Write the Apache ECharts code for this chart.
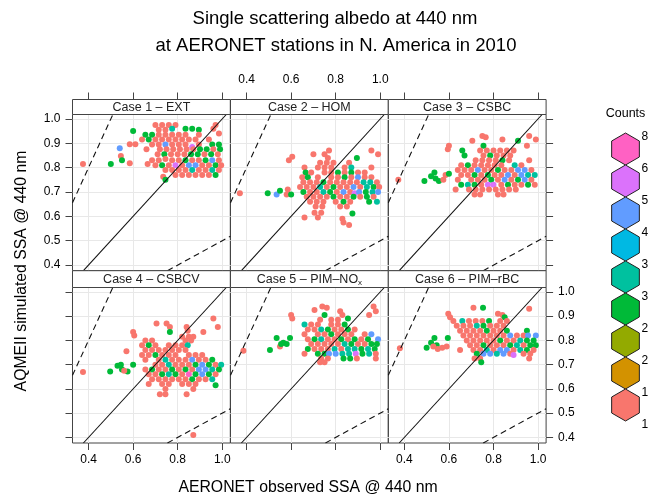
<!DOCTYPE html>
<html><head><meta charset="utf-8">
<script src="https://cdn.jsdelivr.net/npm/echarts@6/dist/echarts.min.js"></script>
<style>html,body{margin:0;padding:0;background:#fff}#c{width:657px;height:498px}</style>
</head><body><div id="c"></div>
<script>
const titleLines = ['Single scattering albedo at 440 nm', 'at AERONET stations in N. America in 2010'];
const xTitle = 'AERONET observed SSA @ 440 nm';
const yTitle = 'AQMEII simulated SSA @ 440 nm';
const caseNames = ['Case 1 – EXT', 'Case 2 – HOM', 'Case 3 – CSBC', 'Case 4 – CSBCV', 'Case 5 – PIM–NO', 'Case 6 – PIM–rBC'];
const caseSub = ['', '', '', '', 'x', ''];
const xTicks = [0.4, 0.6, 0.8, 1.0];
const yTicks = [0.4, 0.5, 0.6, 0.7, 0.8, 0.9, 1.0];
const xRange = [0.328, 1.036];
const yRange = [0.377, 1.018];
const legendTitle = 'Counts';
const countLabels = ['8', '6', '5', '4', '3', '3', '2', '2', '1', '1'];
const palette = ['#F8766D', '#D39200', '#93AA00', '#00BA38', '#00C19F', '#00B9E3', '#619CFF', '#DB72FB', '#FF61C3'];
const refSlopes = [1, 2, 0.5];

// [observed, simulated, colour level 1..9]
const case1 = [
[0.375,0.815,1],[0.50,0.815,4],[0.54,0.88,7],[0.545,0.848,1],[0.55,0.83,4],[0.585,0.818,1],[0.585,0.896,1],[0.61,0.896,1],[0.665,0.815,1],[0.735,0.763,1],[0.745,0.75,4],
[0.70,0.975,1],[0.73,0.975,1],[0.76,0.975,1],[0.79,0.975,1],[0.97,0.975,1],
[0.60,0.95,4],[0.715,0.955,1],[0.745,0.955,1],[0.775,0.96,5],[0.835,0.96,4],[0.865,0.96,4],[0.895,0.955,4],[0.96,0.96,1],
[0.655,0.935,4],[0.685,0.935,4],[0.715,0.935,1],[0.745,0.935,1],[0.775,0.935,1],[0.805,0.935,1],[0.835,0.935,1],[0.895,0.935,1],[0.985,0.94,1],
[0.64,0.915,1],[0.67,0.915,4],[0.70,0.915,1],[0.73,0.915,1],[0.76,0.915,1],[0.79,0.915,1],[0.82,0.915,1],[0.85,0.915,1],[0.88,0.915,1],[0.94,0.915,1],
[0.685,0.895,1],[0.715,0.895,1],[0.745,0.895,7],[0.775,0.895,1],[0.805,0.895,1],[0.835,0.895,1],[0.865,0.885,8],[0.895,0.895,1],[0.955,0.895,4],[0.985,0.895,4],
[0.66,0.875,1],[0.72,0.875,1],[0.75,0.875,1],[0.78,0.875,1],[0.81,0.875,1],[0.84,0.875,1],[0.87,0.875,1],[0.90,0.875,4],[0.93,0.875,4],[0.96,0.875,1],[0.99,0.875,4],
[0.71,0.855,1],[0.74,0.855,4],[0.77,0.855,1],[0.80,0.855,1],[0.83,0.855,1],[0.86,0.855,4],[0.89,0.855,4],[0.92,0.855,1],[0.95,0.855,4],[0.98,0.855,1],
[0.685,0.83,1],[0.715,0.83,1],[0.745,0.835,1],[0.775,0.83,1],[0.805,0.83,1],[0.835,0.83,4],[0.865,0.83,1],[0.895,0.83,1],[0.925,0.83,4],[0.955,0.83,7],[0.985,0.83,1],
[0.70,0.81,1],[0.73,0.81,4],[0.76,0.81,1],[0.79,0.81,8],[0.82,0.81,1],[0.85,0.81,7],[0.88,0.81,7],[0.91,0.81,1],[0.94,0.81,1],[0.97,0.81,4],[0.995,0.81,1],
[0.745,0.79,1],[0.775,0.79,1],[0.805,0.79,1],[0.835,0.79,1],[0.865,0.79,5],[0.895,0.79,1],[0.925,0.79,1],[0.955,0.79,5],[0.985,0.79,1],
[0.79,0.77,1],[0.82,0.77,1],[0.85,0.77,1],[0.88,0.77,1],[0.91,0.77,1],[0.94,0.77,1],[0.97,0.77,4]
];
const case2 = [
[0.37,0.695,1],[0.495,0.695,4],[0.535,0.69,7],[0.55,0.705,4],[0.58,0.69,1],[0.585,0.71,1],[0.60,0.69,4],[0.59,0.83,1],[0.605,0.845,1],[0.66,0.595,1],
[0.70,0.855,1],[0.75,0.855,1],[0.77,0.87,1],[0.765,0.84,1],[0.96,0.87,1],[0.99,0.855,1],[0.895,0.84,4],
[0.73,0.82,1],[0.76,0.82,1],[0.79,0.82,1],[0.86,0.82,1],
[0.66,0.80,1],[0.72,0.80,1],[0.75,0.80,1],[0.78,0.80,1],[0.84,0.80,1],[0.87,0.80,5],[0.96,0.80,1],
[0.665,0.78,4],[0.69,0.78,1],[0.75,0.78,1],[0.78,0.78,1],[0.81,0.78,4],[0.84,0.78,1],[0.87,0.78,4],[0.90,0.78,1],[0.93,0.78,1],
[0.65,0.76,1],[0.675,0.76,4],[0.72,0.76,1],[0.78,0.76,1],[0.81,0.76,1],[0.84,0.76,4],[0.87,0.76,1],[0.90,0.76,7],[0.93,0.76,1],[0.96,0.76,1],
[0.655,0.74,1],[0.685,0.74,1],[0.715,0.74,1],[0.745,0.74,4],[0.775,0.74,1],[0.805,0.74,1],[0.835,0.74,1],[0.865,0.74,1],[0.895,0.74,1],[0.925,0.74,5],[0.955,0.74,5],[0.985,0.74,1],
[0.64,0.72,1],[0.67,0.72,1],[0.70,0.72,1],[0.73,0.72,5],[0.76,0.72,1],[0.79,0.72,4],[0.82,0.72,1],[0.85,0.72,1],[0.88,0.72,7],[0.91,0.72,1],[0.94,0.72,5],[0.97,0.72,4],[0.995,0.72,1],
[0.655,0.70,4],[0.685,0.70,1],[0.715,0.70,1],[0.745,0.70,5],[0.775,0.70,4],[0.805,0.70,1],[0.835,0.70,7],[0.865,0.70,1],[0.885,0.695,8],[0.905,0.70,7],[0.935,0.70,4],[0.965,0.70,5],[0.99,0.70,7],
[0.67,0.68,1],[0.70,0.68,1],[0.73,0.68,1],[0.76,0.68,1],[0.79,0.68,4],[0.82,0.68,1],[0.85,0.68,1],[0.88,0.68,4],[0.91,0.68,1],[0.94,0.68,4],[0.97,0.68,1],
[0.685,0.66,1],[0.715,0.66,1],[0.745,0.66,1],[0.80,0.66,1],[0.835,0.66,4],[0.865,0.66,1],[0.95,0.66,4],[0.985,0.66,5],
[0.71,0.64,1],[0.74,0.64,1],[0.82,0.64,1],[0.85,0.64,1],
[0.705,0.615,1],[0.735,0.615,1],[0.875,0.612,4],
[0.72,0.595,1],[0.83,0.59,1],[0.835,0.575,1],[0.86,0.565,1]
];
const case3 = [
[0.373,0.75,1],[0.49,0.745,4],[0.52,0.765,4],[0.535,0.78,4],[0.54,0.755,4],[0.555,0.745,4],[0.575,0.75,1],[0.585,0.77,1],[0.60,0.775,4],
[0.60,0.89,1],[0.595,0.875,1],[0.705,0.91,1],[0.75,0.93,1],[0.765,0.925,1],[0.84,0.915,1],[0.96,0.93,1],[0.99,0.915,1],[0.95,0.89,1],[0.91,0.91,4],[0.755,0.89,4],
[0.66,0.87,4],[0.74,0.87,1],[0.77,0.87,1],[0.80,0.87,1],[0.83,0.87,1],[0.86,0.87,1],[0.89,0.87,1],
[0.67,0.85,4],[0.755,0.85,1],[0.785,0.85,4],[0.815,0.85,1],[0.845,0.85,1],[0.875,0.85,1],
[0.72,0.83,1],[0.75,0.83,1],[0.78,0.83,1],[0.81,0.83,1],[0.84,0.83,4],[0.87,0.83,1],[0.96,0.83,1],
[0.655,0.81,1],[0.685,0.81,4],[0.715,0.81,1],[0.745,0.81,1],[0.775,0.81,1],[0.805,0.81,1],[0.835,0.81,1],[0.895,0.81,5],[0.925,0.81,1],
[0.64,0.79,1],[0.67,0.79,1],[0.70,0.79,1],[0.73,0.79,7],[0.76,0.79,1],[0.79,0.79,1],[0.82,0.79,4],[0.85,0.79,1],[0.88,0.79,1],[0.91,0.79,7],[0.94,0.79,7],[0.97,0.79,1],
[0.655,0.77,1],[0.685,0.77,1],[0.715,0.77,4],[0.745,0.77,1],[0.775,0.77,4],[0.805,0.77,1],[0.835,0.77,1],[0.865,0.77,7],[0.895,0.77,1],[0.925,0.77,7],[0.955,0.77,5],[0.985,0.77,5],
[0.64,0.75,1],[0.70,0.75,1],[0.73,0.75,1],[0.76,0.75,1],[0.79,0.75,4],[0.82,0.75,1],[0.85,0.75,7],[0.88,0.75,1],[0.91,0.75,4],[0.94,0.75,7],[0.97,0.75,1],
[0.655,0.73,4],[0.685,0.73,5],[0.715,0.73,4],[0.745,0.73,1],[0.775,0.73,8],[0.80,0.73,8],[0.835,0.73,1],[0.865,0.73,4],[0.895,0.73,1],[0.925,0.73,1],[0.955,0.73,4],[0.985,0.73,1],
[0.63,0.71,1],[0.69,0.71,1],[0.72,0.71,1],[0.75,0.71,1],[0.78,0.71,1],[0.81,0.71,1],[0.84,0.71,1],[0.87,0.71,1],[0.90,0.71,1],
[0.715,0.69,1],[0.74,0.69,1],[0.82,0.69,1],[0.845,0.69,1]
];
const case4 = [
[0.375,0.67,1],[0.497,0.672,4],[0.53,0.695,4],[0.545,0.70,4],[0.55,0.68,4],[0.575,0.672,4],[0.56,0.675,1],[0.60,0.70,4],[0.57,0.755,1],[0.60,0.835,1],[0.605,0.82,1],
[0.705,0.87,1],[0.75,0.87,1],[0.765,0.855,1],[0.765,0.835,4],[0.84,0.855,1],[0.845,0.84,1],[0.915,0.835,1],[0.96,0.89,1],[0.98,0.855,1],
[0.82,0.815,1],[0.85,0.815,1],[0.87,0.815,1],
[0.655,0.80,1],[0.685,0.80,1],[0.835,0.80,1],[0.86,0.80,1],
[0.64,0.78,1],[0.67,0.78,4],[0.70,0.78,1],[0.76,0.78,1],[0.79,0.78,1],[0.82,0.78,1],[0.845,0.78,5],
[0.655,0.76,1],[0.685,0.76,1],[0.715,0.76,1],[0.745,0.76,1],[0.775,0.76,1],[0.805,0.76,1],[0.835,0.76,1],
[0.64,0.74,1],[0.67,0.74,1],[0.70,0.74,4],[0.73,0.74,1],[0.76,0.74,1],[0.79,0.74,1],[0.85,0.74,1],[0.88,0.74,1],[0.91,0.74,1],
[0.655,0.72,1],[0.715,0.72,1],[0.745,0.72,5],[0.775,0.72,1],[0.805,0.72,1],[0.835,0.72,1],[0.865,0.72,7],[0.895,0.72,1],[0.925,0.72,1],[0.955,0.72,4],
[0.70,0.70,1],[0.73,0.70,1],[0.76,0.70,5],[0.79,0.70,1],[0.82,0.70,1],[0.85,0.70,1],[0.88,0.70,4],[0.91,0.70,7],[0.94,0.70,4],[0.97,0.70,1],[0.995,0.70,5],
[0.655,0.68,1],[0.685,0.68,4],[0.715,0.68,1],[0.745,0.68,1],[0.775,0.68,4],[0.805,0.68,1],[0.835,0.68,4],[0.865,0.68,1],[0.895,0.68,7],[0.925,0.68,7],[0.955,0.68,5],[0.985,0.68,4],
[0.67,0.66,1],[0.70,0.66,1],[0.73,0.66,4],[0.76,0.66,5],[0.79,0.66,4],[0.82,0.66,1],[0.85,0.66,9],[0.88,0.66,4],[0.91,0.66,7],[0.94,0.66,4],[0.97,0.66,1],
[0.685,0.64,1],[0.715,0.64,1],[0.745,0.64,1],[0.775,0.64,1],[0.805,0.64,1],[0.835,0.64,1],[0.865,0.64,4],[0.895,0.64,1],[0.925,0.64,1],[0.955,0.64,5],
[0.67,0.62,1],[0.73,0.62,1],[0.76,0.62,1],[0.82,0.62,1],[0.85,0.62,1],[0.88,0.62,1],[0.97,0.615,4],
[0.745,0.60,1],[0.87,0.60,1],
[0.72,0.578,1],[0.745,0.578,1],[0.84,0.578,1],
[0.87,0.41,1]
];
const case5 = [
[0.386,0.757,1],[0.505,0.76,4],[0.535,0.81,4],[0.565,0.79,4],[0.55,0.775,1],[0.595,0.81,4],[0.58,0.785,4],[0.555,0.785,4],
[0.60,0.905,1],[0.605,0.89,1],[0.705,0.925,1],[0.74,0.94,1],[0.76,0.935,1],[0.82,0.92,1],[0.83,0.905,1],[0.95,0.905,1],[0.97,0.94,1],[0.98,0.92,1],[0.75,0.905,4],[0.855,0.89,4],
[0.73,0.885,1],[0.78,0.885,1],[0.81,0.885,1],
[0.66,0.865,5],[0.69,0.865,1],[0.72,0.865,1],[0.78,0.865,1],[0.81,0.865,1],[0.84,0.865,4],
[0.675,0.845,1],[0.705,0.845,1],[0.735,0.845,5],[0.765,0.845,4],[0.795,0.845,1],[0.825,0.845,1],[0.855,0.845,4],[0.885,0.845,1],
[0.66,0.825,1],[0.72,0.825,1],[0.75,0.825,1],[0.78,0.825,4],[0.81,0.825,1],[0.84,0.825,1],[0.87,0.825,1],[0.93,0.825,1],[0.96,0.825,7],
[0.675,0.805,1],[0.705,0.805,4],[0.735,0.805,5],[0.765,0.805,1],[0.795,0.805,1],[0.825,0.805,4],[0.855,0.805,1],[0.885,0.805,4],[0.915,0.805,1],[0.945,0.805,4],[0.99,0.805,7],
[0.69,0.785,1],[0.72,0.785,1],[0.75,0.785,1],[0.78,0.785,1],[0.81,0.785,1],[0.84,0.785,5],[0.87,0.785,4],[0.90,0.785,1],[0.93,0.785,1],[0.96,0.785,4],[0.985,0.785,4],
[0.675,0.765,4],[0.705,0.765,1],[0.735,0.765,1],[0.765,0.765,1],[0.795,0.765,5],[0.825,0.765,1],[0.855,0.765,5],[0.885,0.765,5],[0.915,0.765,4],[0.945,0.765,5],[0.975,0.765,4],
[0.66,0.745,1],[0.72,0.745,4],[0.75,0.745,4],[0.77,0.745,7],[0.80,0.745,7],[0.83,0.745,5],[0.86,0.745,5],[0.89,0.745,8],[0.92,0.745,4],[0.95,0.745,5],[0.98,0.745,1],
[0.735,0.725,1],[0.765,0.725,1],[0.835,0.725,4],[0.865,0.725,4],[0.895,0.725,1],[0.98,0.725,1],
[0.73,0.71,1],[0.75,0.71,1]
];
const case6 = [
[0.38,0.768,1],[0.50,0.77,4],[0.52,0.79,4],[0.535,0.81,4],[0.545,0.78,4],[0.595,0.81,4],[0.55,0.765,1],[0.57,0.77,1],[0.59,0.775,1],[0.53,0.775,1],
[0.597,0.91,1],[0.605,0.895,1],[0.71,0.935,1],[0.753,0.935,4],[0.82,0.91,1],[0.84,0.905,1],[0.96,0.93,1],[0.85,0.895,4],
[0.62,0.88,1],[0.66,0.88,5],[0.69,0.88,1],[0.72,0.88,1],[0.75,0.88,1],[0.78,0.88,4],[0.83,0.88,1],[0.86,0.88,1],
[0.635,0.86,1],[0.665,0.86,1],[0.695,0.86,1],[0.725,0.86,5],[0.755,0.86,4],[0.785,0.86,1],[0.815,0.86,1],[0.845,0.86,1],
[0.65,0.84,1],[0.68,0.84,1],[0.71,0.84,1],[0.74,0.84,1],[0.77,0.84,4],[0.80,0.84,1],[0.83,0.84,1],[0.86,0.84,4],[0.95,0.84,4],
[0.665,0.82,1],[0.695,0.82,1],[0.725,0.82,1],[0.755,0.82,1],[0.785,0.82,1],[0.815,0.82,1],[0.845,0.82,1],[0.875,0.82,7],[0.905,0.82,1],[0.935,0.82,1],[0.955,0.82,7],[0.99,0.82,7],
[0.68,0.80,1],[0.71,0.80,1],[0.74,0.80,1],[0.77,0.80,1],[0.80,0.80,1],[0.83,0.80,4],[0.86,0.80,1],[0.89,0.80,1],[0.92,0.80,5],[0.95,0.80,4],[0.98,0.80,4],
[0.695,0.78,1],[0.725,0.78,1],[0.755,0.78,4],[0.785,0.78,1],[0.815,0.78,1],[0.845,0.78,1],[0.875,0.78,4],[0.905,0.78,5],[0.935,0.78,1],[0.965,0.78,4],[0.99,0.78,4],
[0.65,0.76,1],[0.71,0.76,1],[0.74,0.76,1],[0.77,0.76,5],[0.80,0.76,1],[0.83,0.76,7],[0.86,0.76,7],[0.89,0.76,1],[0.92,0.76,5],[0.95,0.76,4],[0.98,0.76,1],
[0.725,0.745,4],[0.755,0.745,7],[0.785,0.745,7],[0.815,0.745,5],[0.845,0.745,7],[0.875,0.745,1],[0.89,0.74,8],[0.935,0.745,1],[0.965,0.745,1],
[0.715,0.725,1],[0.74,0.725,1],[0.96,0.725,1],
[0.745,0.71,4]
];
const cases = [case1, case2, case3, case4, case5, case6];

const FONT = 'Liberation Sans, Arial, Helvetica, sans-serif';
const colLeft = [72.5, 230.5, 388.3];
const panelW = 157.8;
const rows = [{ strip: 99.5, top: 114.5, h: 156.2 }, { strip: 270.7, top: 287.5, h: 155.5 }];
const stripH = 15;

const grids = [], xAxes = [], yAxes = [], series = [], graphics = [];
for (let i = 0; i < 6; i++) {
  const r = Math.floor(i / 3), c = i % 3;
  grids.push({ left: colLeft[c], top: rows[r].top, width: panelW, height: rows[r].h,
    show: true, borderColor: '#444', borderWidth: 1, backgroundColor: 'transparent', containLabel: false });
  const showXLab = (r === 0 && c === 1) || (r === 1 && c !== 1);
  xAxes.push({ gridIndex: i, type: 'value', min: xRange[0], max: xRange[1],
    position: r === 0 ? 'top' : 'bottom', offset: r === 0 ? stripH : 0,
    axisLine: { show: false },
    axisTick: { show: true, length: 7, customValues: xTicks, lineStyle: { color: '#444', width: 1 } },
    axisLabel: { show: showXLab, customValues: xTicks, margin: r === 0 ? 14 : 11, fontSize: 12, color: '#000', fontFamily: FONT,
      formatter: v => v.toFixed(1) },
    splitLine: { show: true, lineStyle: { color: '#e8e8e8', width: 1 } } });
  const showYAx = c !== 1;
  const showYLab = (c === 0 && r === 0) || (c === 2 && r === 1);
  yAxes.push({ gridIndex: i, type: 'value', min: yRange[0], max: yRange[1],
    position: c === 2 ? 'right' : 'left',
    axisLine: { show: false },
    axisTick: { show: showYAx, length: 7, customValues: yTicks, lineStyle: { color: '#444', width: 1 } },
    axisLabel: { show: showYLab, customValues: yTicks, margin: 12, fontSize: 12, color: '#000', fontFamily: FONT,
      formatter: v => v.toFixed(1) },
    splitLine: { show: true, lineStyle: { color: '#e8e8e8', width: 1 } } });
  series.push({ type: 'scatter', xAxisIndex: i, yAxisIndex: i, data: cases[i], symbol: 'circle', symbolSize: 6,
    silent: true, z: 2, itemStyle: { color: p => palette[p.data[2] - 1], opacity: 1 } });
  refSlopes.forEach(k => {
    const x0 = Math.max(xRange[0], yRange[0] / k), x1 = Math.min(xRange[1], yRange[1] / k);
    series.push({ type: 'line', xAxisIndex: i, yAxisIndex: i, data: [[x0, k * x0], [x1, k * x1]],
      symbol: 'none', silent: true, z: 3,
      lineStyle: { color: '#111', width: 1.1, type: k === 1 ? 'solid' : [6, 4] } });
  });
  graphics.push({ type: 'rect', shape: { x: colLeft[c], y: rows[r].strip, width: panelW, height: rows[r].top - rows[r].strip },
    style: { fill: '#fff', stroke: '#444', lineWidth: 1 }, z: 10 });
  const txt = caseSub[i] ? '{n|' + caseNames[i] + '}{s|' + caseSub[i] + '}' : '{n|' + caseNames[i] + '}';
  graphics.push({ type: 'text', x: colLeft[c] + panelW / 2, y: (rows[r].strip + rows[r].top) / 2 + 0.5, z: 11,
    style: { text: txt, align: 'center', verticalAlign: 'middle', fill: '#222', font: '12.5px ' + FONT,
      rich: { n: { fontSize: 12.5, fontFamily: FONT, fill: '#222' }, s: { fontSize: 8, fontFamily: FONT, fill: '#222', padding: [7, 0, 0, 0] } } } });
}

graphics.push({ type: 'text', x: 335, y: 19, style: { text: titleLines[0], align: 'center', verticalAlign: 'middle', fill: '#000', font: '18.5px ' + FONT } });
graphics.push({ type: 'text', x: 336, y: 46, style: { text: titleLines[1], align: 'center', verticalAlign: 'middle', fill: '#000', font: '18.5px ' + FONT } });
graphics.push({ type: 'text', x: 308, y: 488, style: { text: xTitle, align: 'center', verticalAlign: 'middle', fill: '#000', font: '15.8px ' + FONT } });
graphics.push({ type: 'text', x: 22, y: 271, rotation: Math.PI / 2, style: { text: yTitle, align: 'center', verticalAlign: 'middle', fill: '#000', font: '15.8px ' + FONT } });

const keyCx = 625.5, keyTop = 133, hexR = 16;
graphics.push({ type: 'text', x: keyCx, y: 114, style: { text: legendTitle, align: 'center', verticalAlign: 'middle', fill: '#000', font: '12.5px ' + FONT } });
for (let j = 0; j < palette.length; j++) {
  const col = palette[palette.length - 1 - j];
  const cy = keyTop + hexR + j * 2 * hexR;
  const pts = [];
  for (let k = 0; k < 6; k++) {
    const a = (-90 + 60 * k) * Math.PI / 180;
    pts.push([keyCx + hexR * Math.cos(a), cy + hexR * Math.sin(a)]);
  }
  graphics.push({ type: 'polygon', shape: { points: pts }, style: { fill: col, stroke: '#222', lineWidth: 1 } });
}
countLabels.forEach((t, j) => {
  graphics.push({ type: 'text', x: keyCx + 16, y: keyTop + j * 2 * hexR + 4, style: { text: t, align: 'left', verticalAlign: 'middle', fill: '#000', font: '12px ' + FONT } });
});

const chart = echarts.init(document.getElementById('c'), null, { renderer: 'canvas' });
chart.setOption({ animation: false, backgroundColor: '#fff', grid: grids, xAxis: xAxes, yAxis: yAxes, series: series, graphic: graphics });
</script></body></html>
